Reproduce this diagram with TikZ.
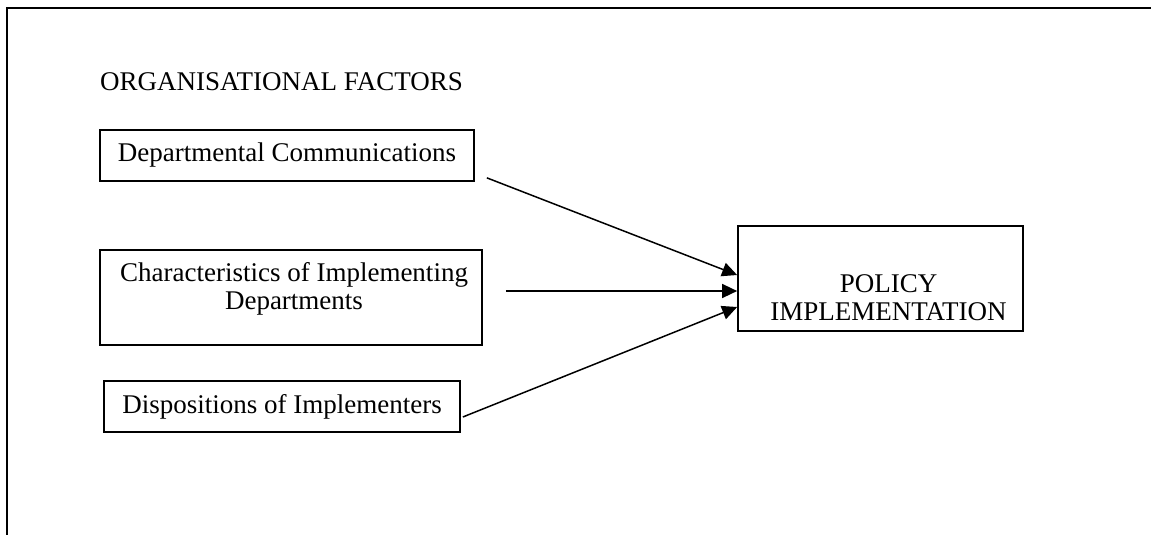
\documentclass[tikz,border=0pt]{standalone}
\usepackage{fontspec}
\setmainfont{Liberation Serif}
\usetikzlibrary{arrows.meta}
\begin{document}
\begin{tikzpicture}[x=1pt,y=-1pt,
  every node/.style={font=\fontsize{27}{28}\selectfont, inner sep=0pt},
  factorbox/.style={draw, line width=1.7pt, minimum width=#1, minimum height=51},
  bigbox/.style={draw, line width=1.7pt},
  arr/.style={line width=1.5pt, -{Triangle[length=15pt,width=14pt]}}]
\useasboundingbox (0,0) rectangle (1151,535);
% frame
\draw[line width=2pt] (7,535) -- (7,8) -- (1151,8);
% title
\node[anchor=base west] (title) at (100,90) {ORGANISATIONAL FACTORS};
% factor boxes
\node[factorbox=374] (dc) at (287,155.5) {Departmental Communications};
\node[bigbox, minimum width=382, minimum height=95] (ch) at (291,297.5) {};
\node[align=center] (chtext) at (294,288.5) {Characteristics of Implementing\\Departments};
\node[factorbox=356] (di) at (282,406.5) {Dispositions of Implementers};
% outcome box
\node[bigbox, minimum width=285, minimum height=105] (pi) at (880.5,278.5) {};
\node[align=center] (pitext) at (888.5,297.3) {POLICY\\IMPLEMENTATION};
% connectors
\draw[arr] ([shift={(12,-4)}]dc.south east) -- ([shift={(0,-3.5)}]pi.west);
\draw[arr] ([shift={(23,-6.5)}]ch.east) -- ([shift={(0,12.5)}]pi.west);
\draw[arr] ([shift={(2,10.5)}]di.east) -- ([shift={(0,28.5)}]pi.west);
\end{tikzpicture}
\end{document}
